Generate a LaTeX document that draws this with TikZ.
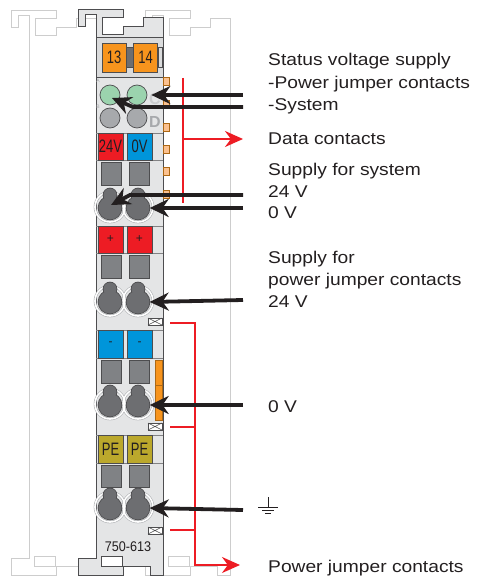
\documentclass[tikz,border=0pt]{standalone}
\usepackage{fontspec}
\setmainfont{Liberation Sans}
\newfontfamily\labelfont[FakeStretch=1.13]{Liberation Sans}
\newfontfamily\narrowfont[FakeStretch=0.72]{Liberation Sans}
\newfontfamily\partfont[FakeStretch=0.9]{Liberation Sans}
\usetikzlibrary{arrows.meta,calc}
\definecolor{ink}{HTML}{231F20}
\definecolor{edge}{HTML}{4D4D4F}
\definecolor{bodygray}{HTML}{E4E5E6}
\definecolor{topgray}{HTML}{DADBDC}
\definecolor{railgray}{HTML}{CDCDCD}
\definecolor{ringgray}{HTML}{9D9FA2}
\definecolor{holegray}{HTML}{6D6E71}
\definecolor{squaregray}{HTML}{808285}
\definecolor{ledgreen}{HTML}{9BD3AE}
\definecolor{ledgray}{HTML}{A7A9AC}
\definecolor{wagored}{HTML}{ED1C24}
\definecolor{wagoblue}{HTML}{0095DA}
\definecolor{wagoorange}{HTML}{F7941D}
\definecolor{taborange}{HTML}{FBC18F}
\definecolor{peolive}{HTML}{BBA82C}
\tikzset{
>=Stealth,
module outline/.style={insert path={(96,15) -- (85,15) -- (85,27) -- (78,27) -- (78,10) -- (123,10) -- (123,18) -- (102,18) -- (102,35) -- (123,35) -- (123,27) -- (143,27) -- (143,18) -- (163,18) -- (163,575) -- (150,575) -- (150,566) -- (123,566) -- (123,575) -- (78,575) -- (78,558) -- (96,558) -- cycle}},
rail/.style={draw=railgray,line width=0.9pt},
modulebody/.style={fill=bodygray,draw=edge,line width=1pt},
block/.style={draw=edge,line width=0.7pt,minimum width=25pt,minimum height=27pt,inner sep=0pt,text=ink,font=\narrowfont\fontsize{18}{18}\selectfont},
sign/.style={block,font=\fontsize{12}{12}\selectfont},
square/.style={draw=edge,line width=0.7pt,fill=squaregray,minimum width=20pt,minimum height=23pt,inner sep=0pt},
led/.style={circle,draw=edge,line width=0.7pt,minimum size=20pt,inner sep=0pt},
hole/.style={circle,minimum size=23pt,inner sep=0pt},
keyhole/.style={fill=holegray,preaction={draw=edge,line width=1.6pt}},
ring/.style={draw=ringgray,double=white,double distance=1.6pt,line width=0.45pt},
tab/.style={fill=taborange,draw=wagoorange!70!black,line width=0.5pt},
xbox/.style={fill=white,draw=edge,line width=0.6pt},
feed/.style={-{Stealth[length=19pt,width=18pt]},line width=3.8pt,ink},
bus/.style={wagored,line width=2pt},
busarrow/.style={bus,-{Stealth[length=18pt,width=16pt]}},
label/.style={anchor=base west,inner sep=0pt,text=ink,font=\labelfont\fontsize{17}{20}\selectfont}}

\begin{document}
\begin{tikzpicture}[x=1pt,y=-1pt]
\useasboundingbox (0,0) rectangle (476,577);

% rails behind the module
\draw[rail,xshift=-67pt,module outline];
\draw[rail,xshift=67pt,module outline];
\draw[rail] (34,556) rectangle (55,566) (168,556) rectangle (189,566);

% module body
\draw[modulebody,module outline];
\filldraw[xbox] (101,556) rectangle (122,566);
\filldraw[fill=topgray,draw=edge,line width=0.7pt] (96,37) rectangle (163,77);
\draw[edge!70,line width=0.5pt]
	(96,133) -- (163,133) (96,160) -- (163,160)
	(96,226) -- (163,226) (96,253) -- (163,253)
	(96,330) -- (163,330) (96,358) -- (163,358)
	(96,435) -- (163,435) (96,463) -- (163,463);

% side tabs
\filldraw[tab] (163,77) rectangle (169,85);
\filldraw[tab] (163,100) rectangle (169,108);
\filldraw[tab] (163,123) rectangle (169,131);
\filldraw[tab] (163,145) rectangle (169,153);
\filldraw[tab] (163,167) rectangle (169,175);
\filldraw[tab] (163,190) rectangle (169,198);
\filldraw[fill=wagoorange,draw=wagoorange!70!black,line width=0.5pt] (155,360) rectangle (162,385) (155,385) rectangle (162,420);

% status terminals
\filldraw[fill=holegray,draw=edge,line width=0.6pt] (126,47) rectangle (133,67);
\draw[edge,line width=0.6pt] (158,47) rectangle (162,67);
\node[block,fill=wagoorange,minimum width=24pt,minimum height=29pt] (t13) at (114,57.5) {13};
\node[block,fill=wagoorange,minimum width=24pt,minimum height=29pt] (t14) at (145.5,57.5) {14};

% LEDs
\node[font=\fontsize{5}{5}\selectfont,text=ledgray] (ltrA) at (98,81) {A};
\node[font=\fontsize{5}{5}\selectfont,text=ledgray] (ltrB) at (98,107) {B};
\node[font=\bfseries\fontsize{16}{16}\selectfont,text=ledgray!60] (ltrC) at (155,99) {C};
\node[font=\bfseries\fontsize{16}{16}\selectfont,text=ledgray] (ltrD) at (155,122) {D};
\node[led,fill=ledgreen] (ledA) at (110,95) {};
\node[led,fill=ledgreen] (ledB) at (137,95) {};
\node[led,fill=ledgray] (ledC) at (110,118) {};
\node[led,fill=ledgray] (ledD) at (137,118) {};

% terminal rows
\node[block,fill=wagored] (b1a) at (110.5,146.5) {24V};
\node[block,fill=wagoblue] (b1b) at (139.5,146.5) {0V};
\node[square] (s1a) at (111,173.5) {};
\node[square] (s1b) at (139,173.5) {};
\node[hole] (k1a) at (110,208) {};
\node[hole] (k1b) at (138,208) {};

\node[sign,fill=wagored] (b2a) at (110.5,239.5) {+};
\node[sign,fill=wagored] (b2b) at (139.5,239.5) {+};
\node[square] (s2a) at (111,266.5) {};
\node[square] (s2b) at (139,266.5) {};
\node[hole] (k2a) at (110,302) {};
\node[hole] (k2b) at (138,302) {};

\node[sign,fill=wagoblue,minimum height=28pt] (b3a) at (110.5,344) {-};
\node[sign,fill=wagoblue,minimum height=28pt] (b3b) at (139.5,344) {-};
\node[square] (s3a) at (111,371.5) {};
\node[square] (s3b) at (139,371.5) {};
\node[hole] (k3a) at (110,405) {};
\node[hole] (k3b) at (138,405) {};

\node[block,fill=peolive,minimum height=28pt] (b4a) at (110.5,449) {PE};
\node[block,fill=peolive,minimum height=28pt] (b4b) at (139.5,449) {PE};
\node[square,minimum height=22pt] (s4a) at (111,476) {};
\node[square,minimum height=22pt] (s4b) at (139,476) {};
\node[hole] (k4a) at (110,508) {};
\node[hole] (k4b) at (138,508) {};

% clamping holes
\draw[ring] ($(k1a)+(0,-1)$) circle (15) ($(k1b)+(0,-1)$) circle (15);
\draw[ring] ($(k2a)+(0,-1)$) circle (15) ($(k2b)+(0,-1)$) circle (15);
\draw[ring] ($(k3a)+(0,-1)$) circle (15) ($(k3b)+(0,-1)$) circle (15);
\draw[ring] ($(k4a)+(0,-1)$) circle (15) ($(k4b)+(0,-1)$) circle (15);
\path[keyhole] (k1a) circle (11.5) ($(k1a)+(0,-13)$) circle (6.5);
\path[keyhole] (k1b) circle (11.5) ($(k1b)+(0,-13)$) circle (6.5);
\path[keyhole] (k2a) circle (11.5) ($(k2a)+(0,-13)$) circle (6.5);
\path[keyhole] (k2b) circle (11.5) ($(k2b)+(0,-13)$) circle (6.5);
\path[keyhole] (k3a) circle (11.5) ($(k3a)+(0,-13)$) circle (6.5);
\path[keyhole] (k3b) circle (11.5) ($(k3b)+(0,-13)$) circle (6.5);
\path[keyhole] (k4a) circle (11.5) ($(k4a)+(0,-13)$) circle (6.5);
\path[keyhole] (k4b) circle (11.5) ($(k4b)+(0,-13)$) circle (6.5);

% jumper markers
\filldraw[xbox] (148,318) rectangle (162,325);
\draw[edge,line width=0.5pt] (148,318) -- (162,325) (148,325) -- (162,318);
\filldraw[xbox] (148,423) rectangle (162,430);
\draw[edge,line width=0.5pt] (148,423) -- (162,430) (148,430) -- (162,423);
\filldraw[xbox] (148,527) rectangle (162,534);
\draw[edge,line width=0.5pt] (148,527) -- (162,534) (148,534) -- (162,527);

\node[font=\partfont\fontsize{14}{14}\selectfont,text=ink] (partno) at (128,547) {750-613};

% data and power jumper contacts
\coordinate (dtop) at (183,78);
\coordinate (dbot) at (183,203);
\coordinate (dmid) at (183,139);
\coordinate (dend) at (243,139);
\draw[bus] (dtop) -- (dbot);
\draw[busarrow] (dmid) -- (dend);
\coordinate (pj1) at (170,323);
\coordinate (pjc1) at (195,323);
\coordinate (pj2) at (170,427);
\coordinate (pjc2) at (195,427);
\coordinate (pj3) at (170,530);
\coordinate (pjc3) at (195,530);
\coordinate (pjb) at (195,565);
\coordinate (pjend) at (240,565);
\draw[busarrow] (pj1) -- (pjc1) -- (pjb) -- (pjend);
\draw[bus] (pj2) -- (pjc2) (pj3) -- (pjc3);

% feed arrows
\coordinate (f1) at (243,95);
\coordinate (f2) at (243,107);
\coordinate (f2k) at (133,107);
\coordinate (f3) at (243,195);
\coordinate (f3k) at (130,195);
\coordinate (f4) at (243,208);
\coordinate (f5) at (243,300);
\coordinate (f6) at (243,405);
\coordinate (f7) at (243,510);
\draw[feed] (f1) -- ([xshift=4pt]ledB.east);
\draw[feed] (f2) -- (f2k) -- ($(ledA.center)+(2,3)$);
\draw[feed] (f3) -- (f3k) -- ($(k1a.center)+(1,-3)$);
\draw[feed] (f4) -- (k1b.east);
\draw[feed] (f5) -- (k2b.east);
\draw[feed] (f6) -- (k3b.east);
\draw[feed] (f7) -- (k4b.east);

% labels
\node[label] (l1) at (268,66) {Status voltage supply};
\node[label] (l2) at (268,88.5) {-Power jumper contacts};
\node[label] (l3) at (268,111) {-System};
\node[label] (l4) at (268,145) {Data contacts};
\node[label] (l5) at (268,175.5) {Supply for system};
\node[label] (l6) at (268,197) {24 V};
\node[label] (l7) at (268,218.5) {0 V};
\node[label] (l8) at (268,263) {Supply for};
\node[label] (l9) at (268,285) {power jumper contacts};
\node[label] (l10) at (268,307) {24 V};
\node[label] (l11) at (268,412) {0 V};
\node[label] (l12) at (268,572.5) {Power jumper contacts};
\coordinate (gnd) at (268,497);
\draw[ink,line width=0.8pt] (gnd) -- ++(0,10) ++(-10,0) -- ++(20,0) ++(-16,3) -- ++(12,0) ++(-9,3) -- ++(6,0);
\end{tikzpicture}
\end{document}
